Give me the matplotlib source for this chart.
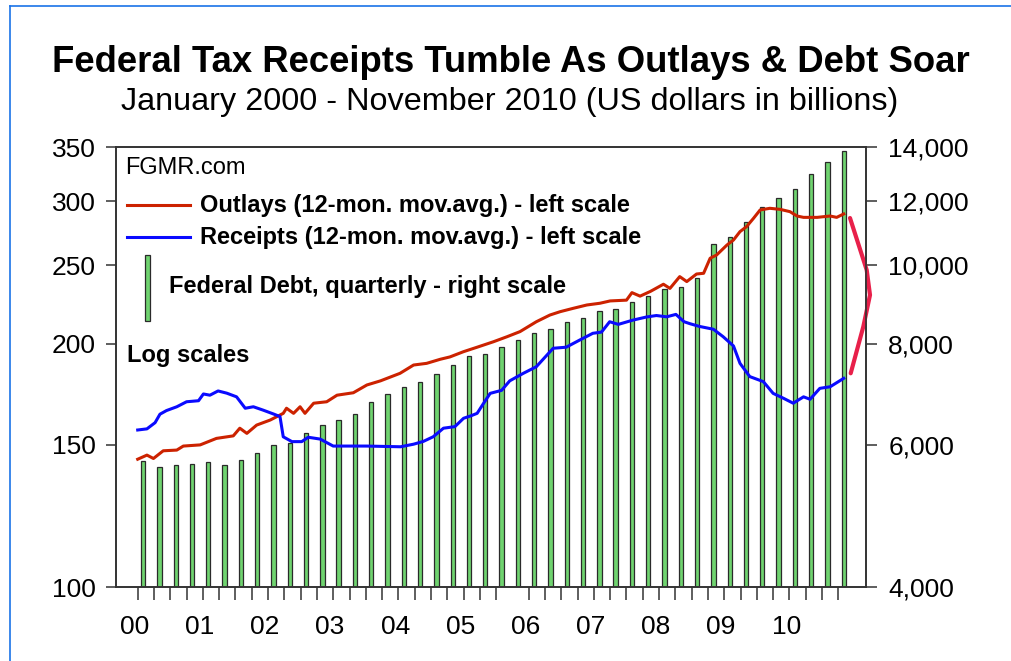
import numpy as np
import matplotlib.pyplot as plt
from matplotlib.ticker import FixedLocator, NullLocator
from matplotlib.lines import Line2D
from matplotlib.patches import Rectangle

plt.rcParams['font.family'] = ['Liberation Sans', 'DejaVu Sans']

# months counted from Jan 2000, values in $ billions
outlay_month = [0, 1.7, 2.9, 4.7, 7.2, 8.4, 11.5, 14.5, 17.6, 18.8, 20.1, 21.9, 24.4,
                26.8, 27.4, 28.7, 29.9, 30.8, 32.4, 34.8, 36.7, 39.7, 42.2, 44.7,
                48.3, 50.8, 53.2, 55.7, 57.5, 60, 62.5, 65.5, 68, 70.4, 73.4, 75.9,
                77.8, 80.2, 82.7, 85.1, 87, 90, 91, 92.5, 94.4, 96.8, 98, 99.8,
                101.1, 102.9, 104.2, 105.4, 106.6, 108.5, 109.7, 110.9, 112.1,
                113.4, 114.6, 116.4, 118.3, 120.1, 121.4, 122.6, 125.1, 127.5,
                128.7, 130]
outlays = [144, 145.7, 144.3, 147.5, 147.8, 149.5, 150, 152.8, 153.9, 157.3, 155,
           158.7, 161, 164.1, 166.5, 164.1, 167.2, 164.1, 168.9, 169.6, 172.8, 174,
           177.9, 180, 183.9, 188.3, 189.2, 191.4, 192.7, 195.6, 198.1, 201.2,
           204.1, 207.1, 213, 217.1, 219.2, 221.3, 223.4, 224.5, 226, 226.5, 231.4,
           229.1, 232.2, 237, 234.2, 242.2, 238.8, 244, 244.5, 255.2, 257.6, 265,
           268.8, 275.3, 279.2, 286, 292.8, 294.2, 293.3, 291.4, 287.8, 286.7,
           286.7, 287.8, 286.7, 289.5]

receipt_month = [0, 1.7, 3.2, 4.1, 5.3, 7.2, 9, 11.2, 12.1, 13.3, 14.8, 16.4, 18.2,
                 19.8, 21.3, 23.1, 25, 26.2, 26.8, 28.4, 30.2, 31.4, 33.6, 36, 39.7,
                 42.2, 48.4, 50.8, 52.6, 54.4, 56.3, 58.4, 60, 61.3, 62.5, 63.7,
                 64.9, 67, 68.5, 71, 73.4, 76.5, 78.9, 81.4, 83.8, 85.4, 86.9, 88.5,
                 91.2, 93.7, 95.5, 97.4, 99.1, 100.6, 101.7, 103.4, 106, 107.8,
                 109.7, 110.9, 112.7, 115.2, 117, 118.9, 120.7, 122.6, 123.8, 125.6,
                 127.5, 130]
receipts = [156.5, 157, 159.8, 163.7, 165.4, 167.2, 169.6, 170.1, 173.4, 172.8, 174.9,
            173.8, 172, 166.5, 167.2, 165.6, 163.8, 162.6, 153.5, 151.4, 151.4, 153.3,
            152.5, 149.5, 149.5, 149.5, 149.2, 150.3, 151.5, 153.5, 157.3, 158, 161.8,
            162.9, 164.1, 168.9, 173.7, 175.2, 180, 183.9, 187.4, 197.5, 198.1, 202.2,
            206.1, 206.8, 213, 211.4, 214, 215.9, 216.8, 216, 217.5, 213, 211.8,
            210.2, 208.5, 204.1, 198.8, 189.2, 182.2, 179.6, 173.7, 171.3, 168.9,
            172, 170.8, 176.2, 177, 181.3]

# quarterly federal debt, 2000Q1 - 2010Q4
debt = [5731, 5634, 5662, 5687, 5720, 5662, 5747, 5868, 5993, 6027, 6212, 6350,
        6441, 6546, 6786, 6940, 7080, 7183, 7342, 7533, 7728, 7766, 7936, 8089,
        8258, 8346, 8522, 8619, 8792, 8835, 9020, 9168, 9344, 9398, 9642, 10631,
        10854, 11309, 11802, 12108, 12424, 12965, 13427, 13854]

year_labels = ['00', '01', '02', '03', '04', '05', '06', '07', '08', '09', '10']
left_ticks = [100, 150, 200, 250, 300, 350]
right_ticks = [4000, 6000, 8000, 10000, 12000, 14000]

RED = '#cc2200'
BLUE = '#0a0aff'
GREEN = '#6fd36f'
EDGE = '#2a2a2a'

W, H = 1012, 661
fx = lambda px: px / W
fy = lambda py: 1 - py / H

fig = plt.figure(figsize=(W / 100, H / 100), dpi=100)
ax = fig.add_axes([fx(115.7), fy(587.3), fx(866) - fx(115.7), fy(147.3) - fy(587.3)])
ax2 = ax.twinx()
ax.set_zorder(2)
ax2.set_zorder(1)
ax.patch.set_visible(False)

# debt bars on the right scale
bar_x = np.arange(len(debt)) * 3 + 1
ax2.bar(bar_x, np.array(debt) - 4000, bottom=4000, width=0.8,
        color=GREEN, edgecolor=EDGE, linewidth=0.9)
ax2.set_yscale('log')
ax2.set_ylim(4000, 14000)
ax2.yaxis.set_major_locator(FixedLocator(right_ticks))
ax2.yaxis.set_minor_locator(NullLocator())
ax2.set_yticklabels([f'{v:,}' for v in right_ticks])
ax2.tick_params(axis='y', direction='out', length=8, width=1.1, pad=8,
                labelsize=19, color='#333333')

# moving averages on the left scale
ax.plot(outlay_month, outlays, color=RED, lw=2.2)
ax.plot(receipt_month, receipts, color=BLUE, lw=2.2)
ax.set_yscale('log')
ax.set_ylim(100, 350)
ax.yaxis.set_major_locator(FixedLocator(left_ticks))
ax.yaxis.set_minor_locator(NullLocator())
ax.set_yticklabels([str(v) for v in left_ticks])
ax.tick_params(axis='y', direction='out', length=7.5, width=1.1, pad=7,
               labelsize=19, color='#333333')

ax.set_xlim(-4.05, 134.1)
ax.xaxis.set_major_locator(FixedLocator(np.arange(len(year_labels)) * 12 - 0.6))
ax.set_xticklabels(year_labels)
quarter_ticks = [q * 3 for q in range(44) if q != 23]
ax.xaxis.set_minor_locator(FixedLocator(quarter_ticks))
ax.tick_params(axis='x', which='major', length=0, pad=20, labelsize=19)
ax.tick_params(axis='x', which='minor', direction='out', length=9.7, width=1.1,
               color='#333333')

for a in (ax, ax2):
    for s in a.spines.values():
        s.set_color('#333333')
        s.set_linewidth(1.2)

# titles
fig.text(fx(510.5), fy(72.5), 'Federal Tax Receipts Tumble As Outlays & Debt Soar',
         ha='center', va='baseline', fontsize=26.3, fontweight='bold')
fig.text(fx(510), fy(110), 'January 2000 - November 2010 (US dollars in billions)',
         ha='center', va='baseline', fontsize=23.3)

# legend block
fig.text(fx(125), fy(174.3), 'FGMR.com', fontsize=17, va='baseline')
fig.add_artist(Line2D([fx(127), fx(190)], [fy(205), fy(205)], color=RED, lw=2.2))
fig.text(fx(200), fy(211.7), 'Outlays (12-mon. mov.avg.) - left scale',
         fontsize=17, fontweight='bold', va='baseline')
fig.add_artist(Line2D([fx(127), fx(190)], [fy(237.3), fy(237.3)], color=BLUE, lw=2.2))
fig.text(fx(200), fy(244), 'Receipts (12-mon. mov.avg.) - left scale',
         fontsize=17, fontweight='bold', va='baseline')
fig.add_artist(Rectangle((fx(145), fy(320.7)), 4.7 / W, (320.7 - 255) / H,
                         transform=fig.transFigure, facecolor=GREEN,
                         edgecolor=EDGE, linewidth=0.9))
fig.text(fx(169), fy(293.3), 'Federal Debt, quarterly - right scale',
         fontsize=17, fontweight='bold', va='baseline')
fig.text(fx(126.7), fy(362.3), 'Log scales', fontsize=17, fontweight='bold',
         va='baseline')

# red bracket at the right
fig.add_artist(Line2D([fx(850), fx(866.7), fx(870), fx(863.3), fx(850.7)],
                      [fy(218), fy(270), fy(295), fy(326.7), fy(373.3)],
                      color='#e8204a', lw=3, solid_capstyle='round'))

# frame lines of the original image
fig.add_artist(Line2D([fx(10), fx(10)], [fy(6), 0], color='#1a73e8', lw=1.2))
fig.add_artist(Line2D([fx(10), 1], [fy(6), fy(6)], color='#1a73e8', lw=1.2))

fig.savefig('out.png', dpi=100)
